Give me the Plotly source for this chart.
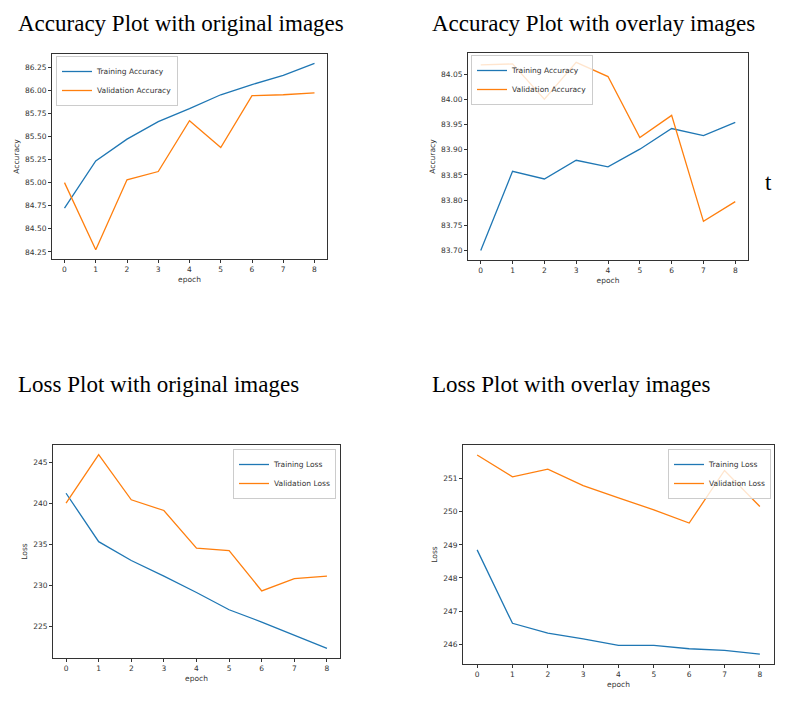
import plotly.graph_objects as go

# page is 798x705; the html body adds an 8px margin, so the figure is sized to fit inside it
PAGE_W, PAGE_H = 798, 705
OFF = 8
W, H = PAGE_W - 2 * OFF, PAGE_H - 2 * OFF

# ---- data ----
epochs = list(range(9))

acc_orig_train = [84.725, 85.235, 85.47, 85.66, 85.80, 85.95, 86.06, 86.16, 86.29]
acc_orig_val = [85.00, 84.275, 85.03, 85.12, 85.67, 85.38, 85.94, 85.95, 85.97]

acc_over_train = [83.700, 83.857, 83.842, 83.879, 83.866, 83.901, 83.942, 83.928, 83.954]
acc_over_val = [84.068, 84.070, 84.000, 84.073, 84.045, 83.924, 83.968, 83.758, 83.797]

loss_orig_train = [241.2, 235.3, 233.0, 231.1, 229.1, 227.0, 225.5, 223.9, 222.3]
loss_orig_val = [240.0, 245.9, 240.4, 239.1, 234.5, 234.2, 229.3, 230.8, 231.1]

loss_over_train = [248.85, 246.63, 246.33, 246.16, 245.96, 245.96, 245.86, 245.81, 245.70]
loss_over_val = [251.72, 251.06, 251.29, 250.79, 250.42, 250.06, 249.66, 251.25, 250.16]

titles = ["Accuracy Plot with original images", "Accuracy Plot with overlay images",
          "Loss Plot with original images", "Loss Plot with overlay images"]

acc_ticks_orig = [84.25, 84.50, 84.75, 85.00, 85.25, 85.50, 85.75, 86.00, 86.25]
acc_ticks_over = [83.70, 83.75, 83.80, 83.85, 83.90, 83.95, 84.00, 84.05]
loss_ticks_orig = [225, 230, 235, 240, 245]
loss_ticks_over = [246, 247, 248, 249, 250, 251]

BLUE = "#1f77b4"
ORANGE = "#ff7f0e"
TICK_FONT = dict(family="DejaVu Sans", size=7.5, color="#333")


def px_x(v):
    # page pixel -> paper fraction
    return (v - OFF) / W


def px_y(v):
    return 1 - (v - OFF) / H


def pad_range(vals):
    lo, hi = min(vals), max(vals)
    m = (hi - lo) * 0.05
    return [lo - m, hi + m]


# panel boxes in page pixels: left, right, top, bottom
boxes = [(52, 327, 54, 259), (468, 748, 53, 260), (53, 340, 445, 658), (463, 774, 445, 664)]

panels = [
    (acc_orig_train, acc_orig_val, "Training Accuracy", "Validation Accuracy", "Accuracy", acc_ticks_orig, ".2f"),
    (acc_over_train, acc_over_val, "Training Accuracy", "Validation Accuracy", "Accuracy", acc_ticks_over, ".2f"),
    (loss_orig_train, loss_orig_val, "Training Loss", "Validation Loss", "Loss", loss_ticks_orig, "d"),
    (loss_over_train, loss_over_val, "Training Loss", "Validation Loss", "Loss", loss_ticks_over, "d"),
]

# legend anchors (page pixels)
legend_pos = [(56, 56, "left"), (471, 55, "left"), (336, 449, "right"), (771, 449, "right")]

fig = go.Figure()
layout = dict(width=W, height=H, margin=dict(l=0, r=0, t=0, b=0),
              paper_bgcolor="white", plot_bgcolor="white", showlegend=True)

for i, (tr, va, ltr, lva, ylab, yt, fmt) in enumerate(panels):
    n = "" if i == 0 else str(i + 1)
    leg = "legend" + n
    fig.add_trace(go.Scatter(x=epochs, y=tr, mode="lines", name=ltr,
                             line=dict(color=BLUE, width=1.3),
                             xaxis="x" + n, yaxis="y" + n, legend=leg))
    fig.add_trace(go.Scatter(x=epochs, y=va, mode="lines", name=lva,
                             line=dict(color=ORANGE, width=1.3),
                             xaxis="x" + n, yaxis="y" + n, legend=leg))
    l, r, t, b = boxes[i]
    axis_common = dict(showline=True, mirror=True, linecolor="#333", linewidth=1,
                       ticks="outside", ticklen=3, tickcolor="#333", tickfont=TICK_FONT,
                       showgrid=False, zeroline=False)
    layout["xaxis" + n] = dict(axis_common, domain=[px_x(l), px_x(r)], anchor="y" + n,
                               range=pad_range(epochs), tickvals=epochs,
                               title=dict(text="epoch", font=TICK_FONT, standoff=3))
    layout["yaxis" + n] = dict(axis_common, domain=[px_y(b), px_y(t)], anchor="x" + n,
                               range=pad_range(tr + va), tickvals=yt, tickformat=fmt,
                               title=dict(text=ylab, font=TICK_FONT, standoff=4))
    lx, ly, anc = legend_pos[i]
    layout[leg] = dict(x=px_x(lx), y=px_y(ly), xanchor=anc, yanchor="top",
                       bgcolor="rgba(255,255,255,0.8)", bordercolor="#ccc", borderwidth=1,
                       font=dict(family="DejaVu Sans", size=7.5, color="#333"),
                       tracegroupgap=0, itemwidth=30)

# panel headings (serif, as in the document)
title_pos = [(16, 23), (430, 23), (16, 384), (430, 384)]
annotations = []
for txt, (x, y) in zip(titles, title_pos):
    annotations.append(dict(text=txt, x=px_x(x), y=px_y(y), xref="paper", yref="paper",
                            xanchor="left", yanchor="middle", showarrow=False,
                            font=dict(family="Liberation Serif", size=23, color="black")))
annotations.append(dict(text="t", x=px_x(763), y=px_y(183), xref="paper", yref="paper",
                        xanchor="left", yanchor="middle", showarrow=False,
                        font=dict(family="Liberation Serif", size=23, color="black")))
layout["annotations"] = annotations

fig.update_layout(**layout)
fig.write_html("out.html")
